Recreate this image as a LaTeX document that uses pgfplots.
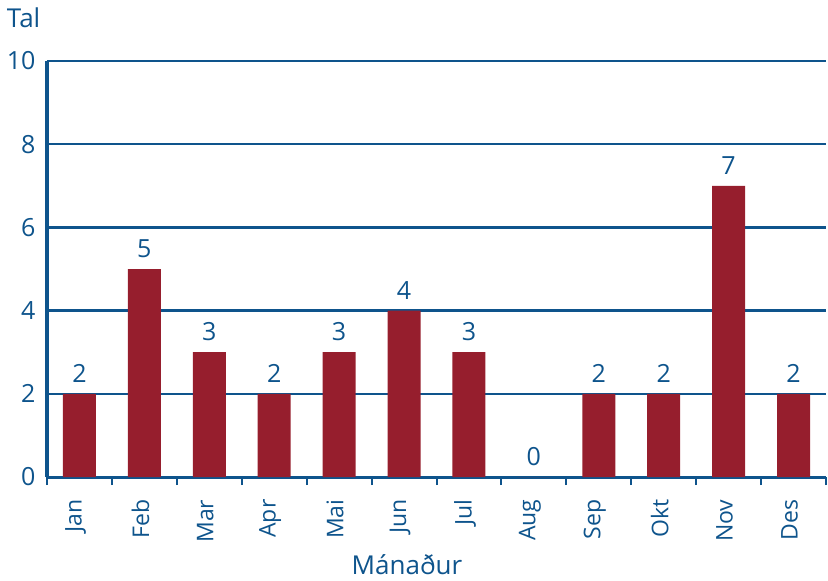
\documentclass[border=0pt]{standalone}
\usepackage{fontspec}
\setmainfont{Open Sans}
\usepackage{pgfplots}
\pgfplotsset{compat=1.18}
\definecolor{navy}{RGB}{14,84,140}
\definecolor{barred}{RGB}{150,30,45}
\begin{document}
\begin{tikzpicture}
\begin{axis}[
    scale only axis,
    width=389.5pt, height=208pt,
    ybar, bar width=16.5pt,
    xmin=-0.5, xmax=11.5, ymin=0, ymax=10,
    axis x line=bottom, axis y line=left,
    axis line style={-, navy, line width=1.5pt},
    xtick={0,...,11},
    xticklabels={Jan,Feb,Mar,Apr,Mai,Jun,Jul,Aug,Sep,Okt,Nov,Des},
    minor xtick={-0.5,0.5,...,11.5},
    major x tick style={draw=none},
    minor x tick style={navy, line width=1pt},
    minor tick length=4pt,
    tick align=outside,
    ytick={0,2,...,10},
    major y tick style={draw=none},
    ymajorgrids=true,
    grid style={navy, line width=1.2pt},
    /pgf/number format/assume math mode=true,
    xticklabel style={yshift=-3.5pt, xshift=-2pt, rotate=90, anchor=east, font=\fontsize{11.5}{14}\selectfont, text=navy},
    yticklabel style={font=\fontsize{12.5}{14}\selectfont, text=navy, xshift=2pt},
    nodes near coords,
    every node near coord/.append style={font=\fontsize{12.5}{14}\selectfont, text=navy, yshift=2pt},
    ylabel={Tal},
    ylabel style={at={(axis description cs:-0.03,1.103)}, rotate=-90, anchor=center, font=\fontsize{13}{15}\selectfont, text=navy},
    xlabel={Mánaður},
    xlabel style={at={(axis description cs:0.462,-0.2115)}, anchor=center, font=\fontsize{13}{15}\selectfont, text=navy},
]
\addplot[fill=barred, draw=none] coordinates {
    (0,2)(1,5)(2,3)(3,2)(4,3)(5,4)(6,3)(7,0)(8,2)(9,2)(10,7)(11,2)
};
\end{axis}
\pgfresetboundingbox
\path (-23.5pt,-51.5pt) rectangle (390.5pt,238.5pt);
\end{tikzpicture}
\end{document}
